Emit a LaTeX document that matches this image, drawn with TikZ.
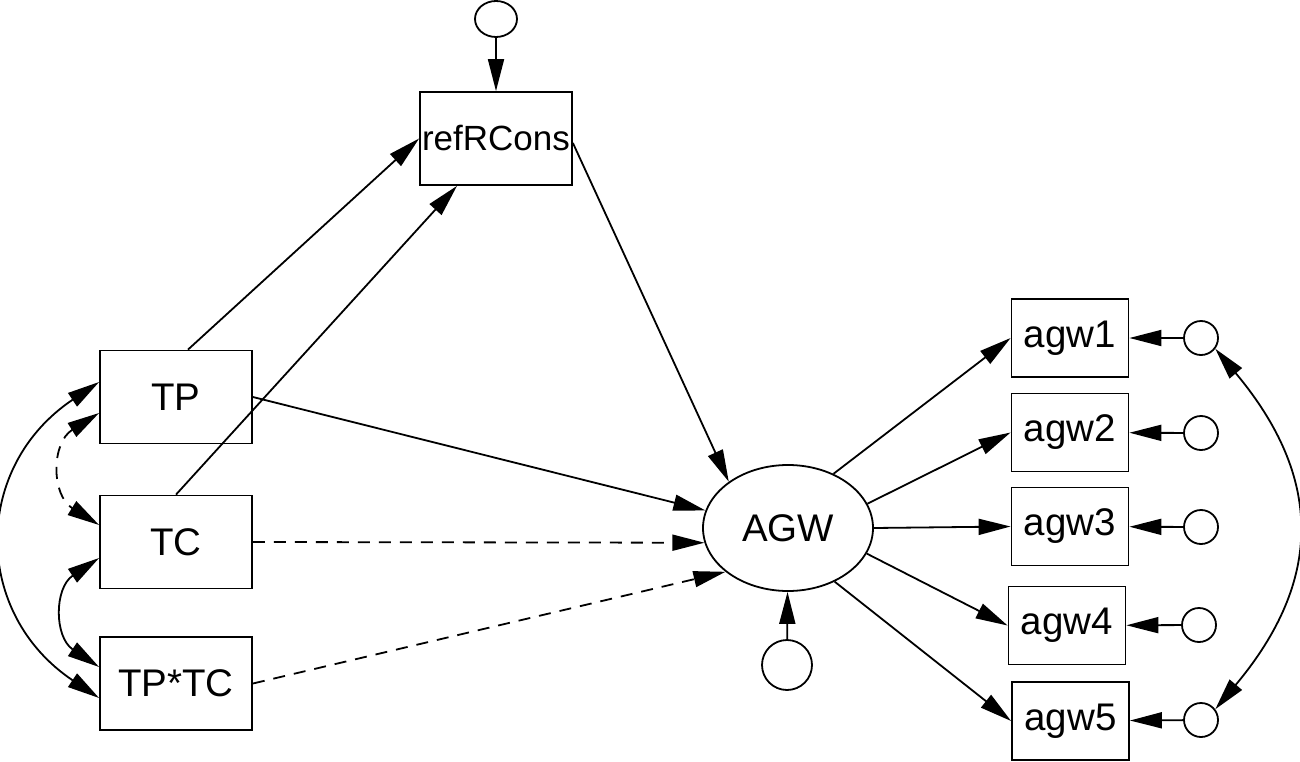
\documentclass[tikz,border=0pt]{standalone}
\usepackage{fontspec}
\setmainfont{Liberation Sans}
\usetikzlibrary{arrows.meta,shapes.geometric,calc}
\begin{document}
\begin{tikzpicture}[x=1pt,y=-1pt,
  lw/.style={line width=1.8pt},
  txt/.style={font=\fontsize{38.5}{42}\selectfont},
  box/.style={draw,lw,txt,minimum width=152pt,minimum height=93pt,inner sep=0pt},
  obs/.style={draw,lw,txt,minimum width=117pt,minimum height=78pt,inner sep=0pt},
  lat/.style={draw,lw,txt,ellipse,minimum width=170pt,minimum height=126pt,inner sep=0pt},
  err/.style={draw,lw,circle,minimum size=34pt,inner sep=0pt},
  tip/.tip={Triangle[length=32pt,width=16pt]},
  path/.style={lw,-tip},
  cov/.style={lw,tip-tip},
  dsh/.style={dash pattern=on 12pt off 9pt}]
\useasboundingbox (0,0) rectangle (1300,762);
% nodes
\node[box,font=\fontsize{35}{40}\selectfont] (ref) at (496,138.5) {refRCons};
\node[draw,lw,ellipse,minimum width=42pt,minimum height=36pt,inner sep=0pt] (eref) at (496,19) {};
\node[box] (TP) at (176,397) {TP};
\node[box] (TC) at (176,542) {TC};
\node[box] (TPTC) at (176,683.5) {TP*TC};
\node[lat] (AGW) at (788,528) {AGW};
\node[err,minimum size=50pt] (eAGW) at (787,665) {};
\node[obs] (agw1) at (1070,338) {agw1};
\node[obs] (agw2) at (1070,432.5) {agw2};
\node[obs] (agw3) at (1070,526.5) {agw3};
\node[obs] (agw4) at (1067,625.5) {agw4};
\node[obs] (agw5) at (1070.5,721) {agw5};
\node[err] (c1) at (1201,338) {};
\node[err] (c2) at (1201,433) {};
\node[err] (c3) at (1201,527) {};
\node[err] (c4) at (1199,625) {};
\node[err] (c5) at (1201,720) {};
% regression paths
\draw[path] (eref) -- (ref);
\draw[path] ([xshift=12pt]TP.north) -- (ref.west);
\draw[path] (TC.north) -- ([xshift=-39pt]ref.south);
\draw[path] ([yshift=-4.5pt]ref.east) -- (AGW.142.5);
\draw[path] (TP.east) -- (AGW.168);
\draw[path,dsh] (TC.east) -- (AGW.190);
\draw[path,dsh] (TPTC.east) -- (AGW.215.5);
\draw[path] (AGW.50) -- (agw1.west);
\draw[path] (AGW.17) -- (agw2.west);
\draw[path] (AGW.east) -- (agw3.west);
\draw[path] (AGW.-18) -- (agw4.west);
\draw[path] (AGW.-49) -- (agw5.west);
\draw[path] (eAGW) -- (AGW);
\draw[path] (c1) -- (agw1);
\draw[path] (c2) -- (agw2);
\draw[path] (c3) -- (agw3);
\draw[path] (c4) -- (agw4);
\draw[path] (c5) -- (agw5);
% covariances
\coordinate (l1s) at ([yshift=15pt]TP.west);
\coordinate (l1e) at ([yshift=-14.5pt]TPTC.west);
\draw[cov] (l1s) .. controls ($(l1s)+(-127,85)$) and ($(l1e)+(-127,-85)$) .. (l1e);
\coordinate (l2s) at ([yshift=-16pt]TP.west);
\coordinate (l2e) at ([yshift=17pt]TC.west);
\draw[cov,dsh] (l2s) .. controls ($(l2s)+(-48,30)$) and ($(l2e)+(-48,-30)$) .. (l2e);
\coordinate (l3s) at ([yshift=-16pt]TC.west);
\coordinate (l3e) at ([yshift=16.5pt]TPTC.west);
\draw[cov] (l3s) .. controls ($(l3s)+(-45,30)$) and ($(l3e)+(-45,-30)$) .. (l3e);
\coordinate (r1s) at (c1.-37);
\coordinate (r1e) at (c5.37);
\draw[cov] (r1s) .. controls ($(r1s)+(108,129)$) and ($(r1e)+(108,-129)$) .. (r1e);
\end{tikzpicture}
\end{document}
